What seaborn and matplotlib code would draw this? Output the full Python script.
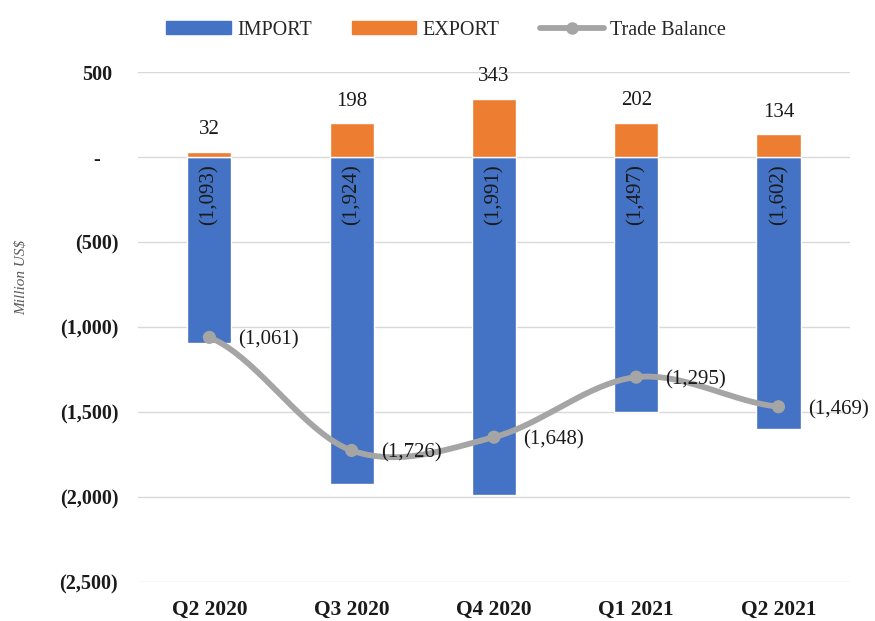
import numpy as np
import matplotlib
matplotlib.use("Agg")
import matplotlib.pyplot as plt
from matplotlib.patches import Patch
from matplotlib.lines import Line2D
import seaborn as sns

quarters = ["Q2 2020", "Q3 2020", "Q4 2020", "Q1 2021", "Q2 2021"]
imports = [-1093, -1924, -1991, -1497, -1602]
exports = [32, 198, 343, 202, 134]
balance = [-1061, -1726, -1648, -1295, -1469]
y_ticks = [500, 0, -500, -1000, -1500, -2000, -2500]

BLUE = "#4472C4"
ORANGE = "#ED7D31"
GREY = "#A5A5A5"
TEXT = "#1a1a1a"
SERIF = "Liberation Serif"

sns.set_theme(style="white")
plt.rcParams["font.family"] = [SERIF, "DejaVu Serif"]

fig = plt.figure(figsize=(8.75, 6.21), dpi=100)
ax = fig.add_axes([0.158, 0.0628, 0.813, 0.8212])

sns.barplot(x=quarters, y=imports, color=BLUE, saturation=1, width=0.31, ax=ax)
sns.barplot(x=quarters, y=exports, color=ORANGE, saturation=1, width=0.31, ax=ax)

# Smoothed trade-balance line (Catmull-Rom through the quarterly points)
xs = np.arange(len(balance), dtype=float)
ys = np.asarray(balance, dtype=float)
px = np.concatenate([[2 * xs[0] - xs[1]], xs, [2 * xs[-1] - xs[-2]]])
py = np.concatenate([[ys[0]], ys, [ys[-1]]])
cx, cy = [], []
t = np.linspace(0, 1, 40)
for i in range(1, len(px) - 2):
    p0, p1, p2, p3 = (np.array([px[j], py[j]]) for j in range(i - 1, i + 3))
    seg = 0.5 * ((2 * p1)[:, None]
                 + (-p0 + p2)[:, None] * t
                 + (2 * p0 - 5 * p1 + 4 * p2 - p3)[:, None] * t ** 2
                 + (-p0 + 3 * p1 - 3 * p2 + p3)[:, None] * t ** 3)
    cx.extend(seg[0]); cy.extend(seg[1])
ax.plot(cx, cy, color=GREY, lw=4.2, solid_capstyle="round", zorder=4)
sns.scatterplot(x=xs, y=ys, color=GREY, s=90, edgecolor="none", ax=ax, zorder=5)

# Value labels
for i, v in enumerate(imports):
    ax.annotate(f"({abs(v):,})", (i, 0), xytext=(0, -5), textcoords="offset points",
                rotation=90, ha="center", va="top", fontsize=15, color=TEXT)
for i, v in enumerate(exports):
    ax.annotate(f"{v:,}", (i, v), xytext=(0, 9), textcoords="offset points",
                ha="center", va="bottom", fontsize=15, color=TEXT)
for i, v in enumerate(balance):
    ax.annotate(f"({abs(v):,})", (i, v), xytext=(21, -2), textcoords="offset points",
                ha="left", va="center", fontsize=15, color=TEXT, zorder=6)

ax.set_xlim(-0.5, len(quarters) - 0.5)
ax.set_ylim(-2500, 500)
ax.set_yticks(y_ticks)
ax.set_yticklabels([])

# Accounting-style y labels: negatives in parentheses, zero as a dash
ytrans = ax.get_yaxis_transform()
for v in y_ticks:
    if v < 0:
        s, dx = f"({abs(v):,})", -20
    elif v == 0:
        s, dx = "-", -38
    else:
        s, dx = f"{v:,}", -26
    ax.annotate(s, (0, v), xycoords=ytrans, xytext=(dx * 0.72, -2),
                textcoords="offset points", ha="right", va="center",
                fontsize=14.5, fontweight="bold", color=TEXT)

ax.grid(axis="y", color="#D9D9D9", lw=1)
ax.set_axisbelow(True)
for s in ax.spines.values():
    s.set_visible(False)
ax.tick_params(axis="both", length=0)
ax.tick_params(axis="x", pad=13, labelsize=15.5)
for lab in ax.get_xticklabels():
    lab.set_fontweight("bold")
    lab.set_color(TEXT)
ax.set_ylabel("")
fig.text(22 / 875, 1 - 277 / 621, "Million US$", rotation=90, ha="center", va="center",
         fontsize=11, style="italic", color="#595959")

handles = [Patch(color=BLUE), Patch(color=ORANGE),
           Line2D([], [], color=GREY, lw=4.2, marker="o", markersize=8)]
fig.legend(handles, ["IMPORT", "EXPORT", "Trade Balance"], loc="center",
           bbox_to_anchor=(0.51, 0.951), ncol=3, frameon=False, fontsize=14.5,
           handlelength=3.2, handleheight=0.6, columnspacing=2.0, handletextpad=0.3)

fig.savefig("out.png", dpi=100, facecolor="white")
